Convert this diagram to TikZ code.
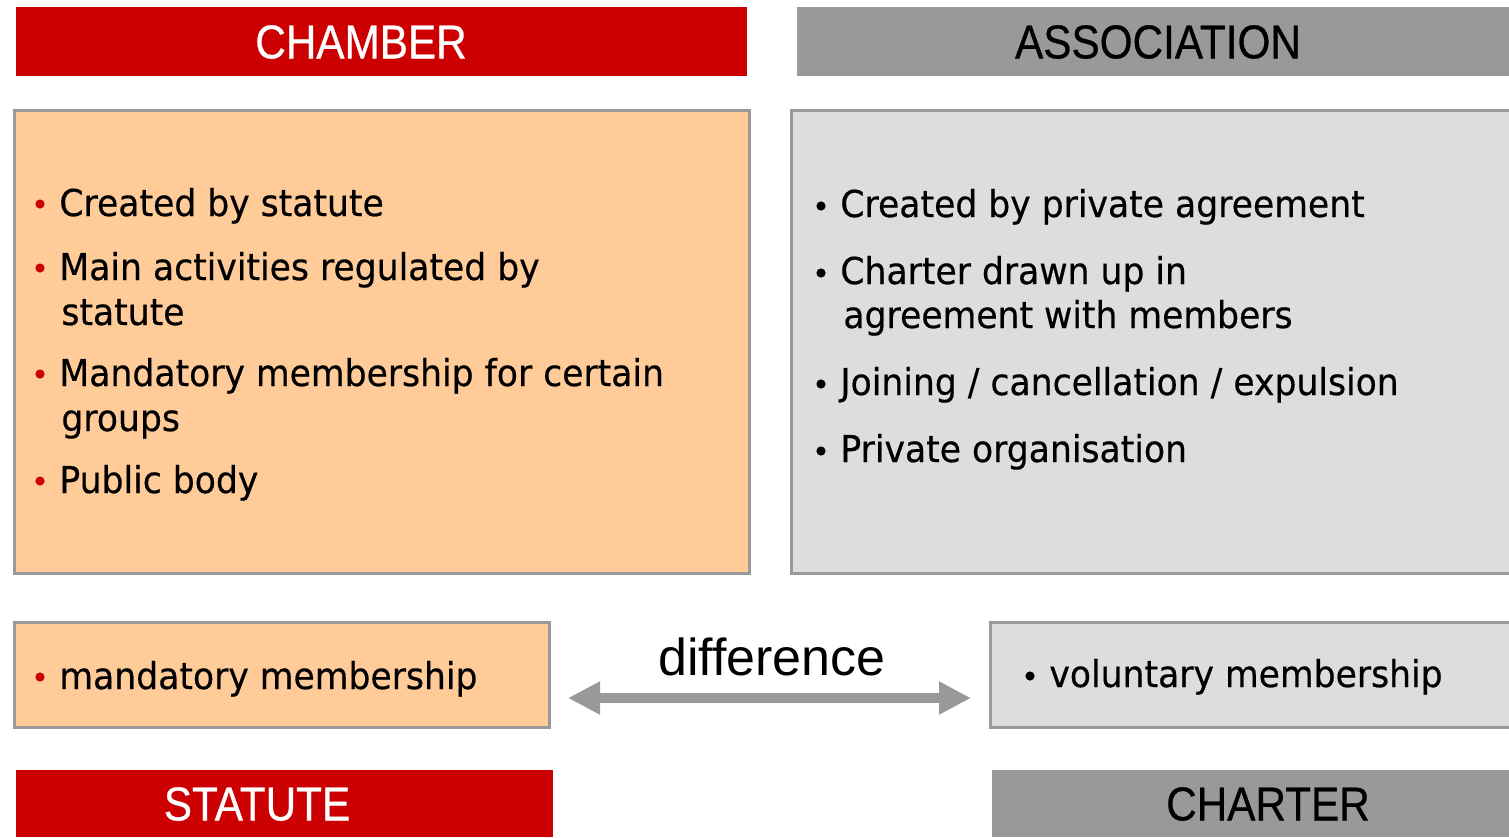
\documentclass[tikz,border=0pt]{standalone}
\usepackage{fontspec}
\usetikzlibrary{arrows.meta}
\newfontfamily\headfont[FakeStretch=0.89,FakeBold=0.6]{Liberation Sans}
\newfontfamily\bodyfont[FakeStretch=0.935,FakeBold=0.5]{DejaVu Sans}
\newfontfamily\difffont{Liberation Sans}
\definecolor{cred}{HTML}{CC0000}
\definecolor{cgray}{HTML}{999999}
\definecolor{cpeach}{HTML}{FFCC99}
\definecolor{clight}{HTML}{DDDDDD}
\begin{document}
\begin{tikzpicture}[x=0.5pt,y=-0.5pt,
  header/.style={inner sep=0pt, font=\headfont\fontsize{23.75pt}{28pt}\selectfont},
  panel/.style={draw=cgray, line width=1.5pt},
  btext/.style={anchor=base west, inner sep=0pt, font=\bodyfont\fontsize{18.5pt}{22pt}\selectfont},
  rdot/.style={fill=cred, draw=none},
  kdot/.style={fill=black, draw=none}]
\useasboundingbox (0,0) rectangle (1509,837);
% headers
\fill[cred] (16,7) rectangle (747,76);
\node[header, text=white] (chamber) at (361,42) {CHAMBER};
\fill[cgray] (797,7) rectangle (1509,76);
\node[header, text=black] (assoc) at (1158,42) {ASSOCIATION};
% main panels
\filldraw[panel, fill=cpeach] (14,110) rectangle (749,573);
\filldraw[panel, fill=clight] (791,110) rectangle (1515,573);
% left bullets
\fill[rdot] (40,204) circle[radius=2.3pt];
\node[btext] (l1) at (59,216) {Created by statute};
\fill[rdot] (40,268) circle[radius=2.3pt];
\node[btext] (l2) at (59,280) {Main activities regulated by};
\node[btext] (l2b) at (61,325) {statute};
\fill[rdot] (40,374) circle[radius=2.3pt];
\node[btext] (l3) at (59,386) {Mandatory membership for certain};
\node[btext] (l3b) at (61,431) {groups};
\fill[rdot] (40,481) circle[radius=2.3pt];
\node[btext] (l4) at (59,493) {Public body};
% right bullets
\fill[kdot] (821,206) circle[radius=2.3pt];
\node[btext] (r1) at (840,217) {Created by private agreement};
\fill[kdot] (821,273) circle[radius=2.3pt];
\node[btext] (r2) at (840,284) {Charter drawn up in};
\node[btext] (r2b) at (843,328) {agreement with members};
\fill[kdot] (821,384) circle[radius=2.3pt];
\node[btext] (r3) at (840,395) {Joining / cancellation / expulsion};
\fill[kdot] (821,451) circle[radius=2.3pt];
\node[btext] (r4) at (840,462) {Private organisation};
% small panels
\filldraw[panel, fill=cpeach] (14,622) rectangle (549,727);
\fill[rdot] (40,677) circle[radius=2.3pt];
\node[btext] (lm) at (59,689) {mandatory membership};
\filldraw[panel, fill=clight] (990,622) rectangle (1515,727);
\fill[kdot] (1030,676) circle[radius=2.3pt];
\node[btext] (rm) at (1049,687) {voluntary membership};
% arrow
\coordinate (aL) at (568,698);
\coordinate (aR) at (971,698);
\draw[cgray, line width=5.4pt, {Triangle[length=16pt,width=15.5pt]}-{Triangle[length=16pt,width=15.5pt]}] (aL) -- (aR);
\node[inner sep=0pt, anchor=base, font=\difffont\fontsize{26pt}{30pt}\selectfont] (diff) at (772,675) {difference};
% footers
\fill[cred] (16,770) rectangle (553,837);
\node[header, text=white] (statute) at (257,804) {STATUTE};
\fill[cgray] (992,770) rectangle (1509,837);
\node[header, text=black] (charter) at (1268,804) {CHARTER};
\end{tikzpicture}
\end{document}
